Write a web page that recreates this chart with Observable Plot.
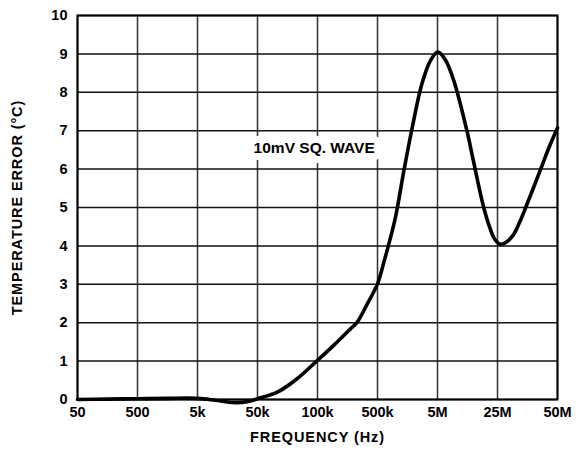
<!DOCTYPE html>
<html><head><meta charset="utf-8">
<script src="https://cdn.jsdelivr.net/npm/d3@7"></script>
<script src="https://cdn.jsdelivr.net/npm/@observablehq/plot@0.6"></script>
<style>body{margin:0;background:#fff}</style>
</head><body><div id="chart"></div>
<script>
// Frequency tick labels (equally spaced categories)
const freqLabels = ["50","500","5k","50k","100k","500k","5M","25M","50M"];
const freqIndex = freqLabels.map((d,i)=>i);
const yTicks = [0,1,2,3,4,5,6,7,8,9,10];
// curve points: position along the frequency axis (in tick-index units) and error in °C
const curveX = [0, 0.5, 1, 1.5, 2, 2.3, 2.6, 2.85, 3, 3.33, 3.66, 4, 4.27, 4.55, 4.66, 4.83, 5, 5.11, 5.16, 5.3, 5.44, 5.58, 5.74, 5.88, 6.006, 6.13, 6.27, 6.49, 6.6, 6.77, 6.88, 6.96, 7.05, 7.15, 7.27, 7.37, 7.47, 7.72, 7.86, 8];
const curveY = [0, 0.01, 0.02, 0.03, 0.03, -0.02, -0.08, -0.05, 0.02, 0.19, 0.54, 1.02, 1.41, 1.84, 2.01, 2.49, 3.01, 3.6, 3.88, 4.75, 5.96, 7.09, 8.22, 8.82, 9.05, 8.85, 8.31, 7.0, 6.2, 5.0, 4.44, 4.16, 4.04, 4.1, 4.3, 4.62, 5.0, 6.0, 6.57, 7.07];
const note = ["10mV SQ. WAVE"];
const noteX = [3.945];
const noteY = [6.55];

const data = curveX.map((x,i)=>({x, y: curveY[i]}));

const chart = Plot.plot({
  width: 584, height: 453,
  marginLeft: 77, marginRight: 27, marginTop: 15, marginBottom: 54,
  style: {fontFamily: "'Liberation Sans', Arial, sans-serif", fontWeight: "bold", fontSize: "14.5px", color: "#000", background: "#fff"},
  x: {domain: [0, 8]},
  y: {domain: [0, 10]},
  marks: [
    Plot.gridX(freqIndex, {stroke: "#333", strokeOpacity: 1, strokeWidth: 1.5}),
    Plot.gridY(yTicks, {stroke: "#111", strokeOpacity: 1, strokeWidth: 1.5}),
    Plot.text(note.map((t,i)=>({t, x: noteX[i], y: noteY[i]})), {x: "x", y: "y", text: "t", fontSize: 15.5, fontWeight: "bold", fill: "#000", stroke: "#fff", strokeWidth: 14, strokeLinejoin: "round"}),
    Plot.line(data, {x: "x", y: "y", curve: "catmull-rom", stroke: "#000", strokeWidth: 3.6}),
    Plot.frame({stroke: "#000", strokeWidth: 2}),
    Plot.axisX(freqIndex, {tickFormat: i => freqLabels[i], tickSize: 0, tickPadding: 7, fontSize: 14.5, label: "FREQUENCY (Hz)", labelAnchor: "center", labelArrow: "none", labelOffset: 42}),
    Plot.axisY(yTicks, {tickSize: 0, tickPadding: 10, fontSize: 14.5, label: "TEMPERATURE ERROR (°C)", labelAnchor: "center", labelArrow: "none", labelOffset: 66})
  ]
});
d3.select(chart).selectAll('g[aria-label="x-axis label"] text, g[aria-label="y-axis label"] text')
  .style("letter-spacing", "0.9px").style("font-size", "14.5px");
document.getElementById("chart").append(chart);
</script></body></html>
